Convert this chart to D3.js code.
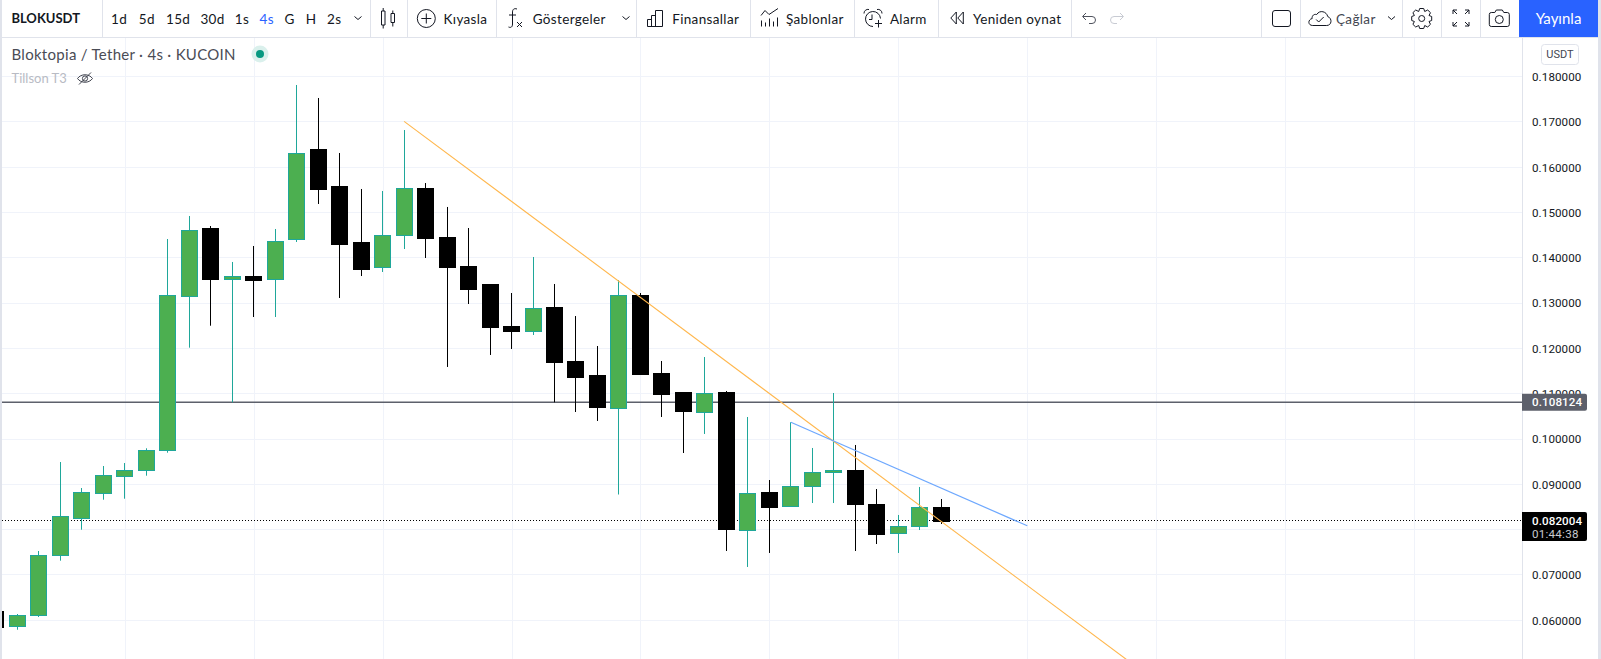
<!DOCTYPE html>
<html><head><meta charset="utf-8">
<script src="https://cdnjs.cloudflare.com/ajax/libs/d3/7.8.5/d3.min.js"></script>
<style>html,body{margin:0;padding:0;background:#fff;overflow:hidden}svg{display:block}text{font-family:Lato,"Open Sans",sans-serif}</style>
</head><body><svg id="c" width="1601" height="659"></svg>
<script>
// Candle data: index -1 .. 43 (4h candles)
const candleIndex = d3.range(-1, 44);
const opens  = [.06205,.05859,.06102,.07426,.08252,.08804,.09170,.09302,.09744,.13144,.14638,.13519,.13600,.13519,.14402,.16382,.15587,.14329,.13784,.14490,.15521,.14461,.13821,.13402,.12475,.12371,.12916,.11724,.11393,.10686,.13181,.11459,.11018,.10583,.11018,.07993,.08832,.08508,.08949,.09252,.09296,.08567,.07912,.08066,.08501];
const closes = [.05859,.06110,.07435,.08296,.08826,.09201,.09311,.09753,.13174,.14609,.13512,.13594,.13512,.14367,.16309,.15499,.14307,.13733,.14499,.15536,.14417,.13799,.13313,.12453,.12364,.12887,.11702,.11371,.10686,.13174,.11437,.10996,.10598,.11011,.07993,.08804,.08501,.08958,.09267,.09296,.08545,.07905,.08075,.08494,.08199];
const highs  = [.06205,.06139,.07530,.09494,.08920,.09406,.09472,.09797,.14417,.14925,.14704,.13910,.14263,.14638,.17817,.17530,.16316,.15521,.15477,.16823,.15653,.15124,.14660,.13402,.13225,.14020,.13424,.12717,.12055,.13512,.13225,.11724,.11018,.11812,.11062,.10488,.09097,.10371,.09804,.11018,.09870,.08898,.08325,.08943,.08678];
const lows   = [.05859,.05792,.06073,.07316,.08000,.08662,.08684,.09192,.09700,.12018,.12503,.10812,.12695,.12695,.14351,.15190,.13115,.13600,.13689,.14196,.13998,.11592,.12982,.11857,.11989,.12298,.10812,.10598,.10400,.08777,.11437,.10488,.09693,.10113,.07530,.07177,.07486,.08508,.08589,.08589,.07530,.07684,.07486,.07993,.08126];
const priceTicks = [.06,.07,.08,.09,.10,.11,.12,.13,.14,.15,.16,.17,.18];
const hiddenTick = .08; // covered by the last-price tag in the reference
const gridIndex = d3.range(5, 66, 6);
const supportPrice = 0.108124, lastPrice = 0.082004, countdown = "01:44:38";
const orangeLine = [[18, .17015],[52, .05]];
const blueLine = [[36, .10371],[47, .08086]];
const toolbarLabels = [["1d",111],["5d",138.8],["15d",166],["30d",200.4],["1s",234.8],["4s",259.6],["G",284.4],["H",305.8],["2s",327],["Kıyasla",443.5],["Göstergeler",532.7],["Finansallar",672.2],["Şablonlar",785.9],["Alarm",889.9],["Yeniden oynat",972.9],["Çağlar",1336]];
const separators = [102,370,407,496,636,750,854,938,1071,1261,1300,1402,1441,1480];
const titleText = "Bloktopia / Tether · 4s · KUCOIN", indicatorText = "Tillson T3", symbolText = "BLOKUSDT", unitText = "USDT", publishText = "Yayınla";

const W = 1601, H = 659, axisX = 1522, paneTop = 38;
const x = d3.scaleLinear().domain([0, 43]).range([17.3, 941.3]);
const y = d3.scaleLinear().domain([.06, .18]).range([620.3, 76.7]);
const crisp = v => Math.round(v - .5) + .5;
const svg = d3.select("#c");
const ink = "#131722", border = "#e0e3eb", grid = "#f0f3fa", up = "#4caf50", upEdge = "#1fa79a";

svg.append("rect").attr("width", W).attr("height", H).attr("fill", "#fff");
svg.append("defs").append("clipPath").attr("id", "pane").append("rect").attr("x", 2).attr("y", paneTop).attr("width", axisX - 2).attr("height", H - paneTop);
const pane = svg.append("g").attr("clip-path", "url(#pane)");

// grid
pane.selectAll(".gy").data(priceTicks).join("line").attr("x1", 2).attr("x2", axisX).attr("y1", d => crisp(y(d))).attr("y2", d => crisp(y(d))).attr("stroke", grid);
pane.selectAll(".gx").data(gridIndex).join("line").attr("x1", d => crisp(x(d) + .5)).attr("x2", d => crisp(x(d) + .5)).attr("y1", paneTop).attr("y2", H).attr("stroke", grid);

// reference lines
pane.append("line").attr("x1", 2).attr("x2", axisX).attr("y1", y(supportPrice)).attr("y2", y(supportPrice)).attr("stroke", "#5d606b").attr("stroke-width", 1.4);
pane.append("line").attr("x1", 2).attr("x2", axisX).attr("y1", crisp(y(lastPrice))).attr("y2", crisp(y(lastPrice))).attr("stroke", "#000").attr("stroke-dasharray", "1 2");

// candles
const candles = candleIndex.map((i, k) => ({i, o: opens[k], c: closes[k], h: highs[k], l: lows[k]}));
const cg = pane.selectAll(".candle").data(candles).join("g");
cg.append("line").attr("x1", d => crisp(x(d.i))).attr("x2", d => crisp(x(d.i)))
  .attr("y1", d => y(d.h)).attr("y2", d => y(d.l))
  .attr("stroke", d => d.c >= d.o ? upEdge : "#000");
cg.append("rect").attr("x", d => crisp(x(d.i)) - 8).attr("width", 16)
  .attr("y", d => crisp(y(Math.max(d.o, d.c))))
  .attr("height", d => Math.max(1, Math.round(y(Math.min(d.o, d.c)) - y(Math.max(d.o, d.c)))))
  .attr("fill", d => d.c >= d.o ? up : "#000")
  .attr("stroke", d => d.c >= d.o ? upEdge : "#000");

// trend lines
const tl = d3.line().x(d => x(d[0])).y(d => y(d[1]));
pane.append("path").attr("d", tl(orangeLine)).attr("fill", "none").attr("stroke", "#ffb74d").attr("stroke-width", 1.1);
pane.append("path").attr("d", tl(blueLine)).attr("fill", "none").attr("stroke", "#6ea8fe").attr("stroke-width", 1.2);

// price axis
const axis = d3.axisRight(y).tickValues(priceTicks.filter(d => d !== hiddenTick)).tickFormat(d3.format(".6f")).tickSize(0).tickPadding(10);
const ag = svg.append("g").attr("transform", `translate(${axisX},0)`).call(axis);
ag.select(".domain").remove();
ag.selectAll("text").attr("fill", ink).style("font-family", "Roboto").style("font-size", "11.6px").style("letter-spacing", "0.1px");
svg.append("line").attr("x1", axisX + .5).attr("x2", axisX + .5).attr("y1", paneTop).attr("y2", H).attr("stroke", border);

// price tags
const tag = (py, h, fill) => svg.append("path").attr("d", `M${axisX} ${py}h63a2 2 0 0 1 2 2v${h - 4}a2 2 0 0 1 -2 2h-63z`).attr("fill", fill);
tag(y(supportPrice) - 8.5, 17, "#5d606b");
svg.append("text").attr("x", 1532).attr("y", y(supportPrice) + 4).text(d3.format(".6f")(supportPrice)).attr("fill", "#fff").style("font-family", "Roboto").style("font-size", "11.6px").style("font-weight", 500).style("letter-spacing", "0.1px");
tag(y(lastPrice) - 8.5, 29, "#000");
svg.append("text").attr("x", 1532).attr("y", y(lastPrice) + 4).text(d3.format(".6f")(lastPrice)).attr("fill", "#fff").style("font-family", "Roboto").style("font-size", "11.6px").style("font-weight", 500).style("letter-spacing", "0.1px");
svg.append("text").attr("x", 1532).attr("y", y(lastPrice) + 17.5).text(countdown).attr("fill", "#c8cad0").style("font-family", "Roboto").style("font-size", "11.6px").style("letter-spacing", "0.25px");

// USDT box
svg.append("rect").attr("x", 1541.5).attr("y", 44.5).attr("width", 37).attr("height", 20).attr("rx", 3).attr("fill", "#fff").attr("stroke", border);
svg.append("text").attr("x", 1560).attr("y", 58).attr("text-anchor", "middle").text(unitText).attr("fill", "#434651").style("font-family", "Roboto").style("font-size", "11px");

// legend
svg.append("text").attr("x", 11.5).attr("y", 59.5).text(titleText).attr("fill", "#4a4c55").style("font-size", "15px").style("letter-spacing", "0.29px");
svg.append("circle").attr("cx", 260).attr("cy", 54).attr("r", 8.5).attr("fill", "#daf0ec");
svg.append("circle").attr("cx", 260).attr("cy", 54).attr("r", 4).attr("fill", "#089981");
svg.append("text").attr("x", 11.5).attr("y", 83).text(indicatorText).attr("fill", "#b8bbc4").style("font-size", "13px");
const eye = svg.append("g").attr("transform", "translate(85,78.5)").attr("fill", "none").attr("stroke", "#434651").attr("stroke-width", 1);
eye.append("path").attr("d", "M-7.5 0C-4 -5 4 -5 7.5 0C4 5 -4 5 -7.5 0Z");
eye.append("circle").attr("r", 2.6);
eye.append("path").attr("d", "M-6 6L6 -6");

// toolbar
svg.append("rect").attr("x", 1519).attr("width", 79.5).attr("height", 37).attr("fill", "#2962ff");
svg.append("text").attr("x", 1558.5).attr("y", 24).attr("text-anchor", "middle").text(publishText).attr("fill", "#fff").style("font-size", "15px");
svg.selectAll(".sep").data(separators).join("line").attr("x1", d => d + .5).attr("x2", d => d + .5).attr("y1", 0).attr("y2", 37).attr("stroke", border);
svg.append("line").attr("x1", 0).attr("x2", W).attr("y1", 37.5).attr("y2", 37.5).attr("stroke", border);
svg.append("rect").attr("width", 2).attr("height", H).attr("fill", border);
svg.append("rect").attr("x", 1598).attr("width", 3).attr("height", H).attr("fill", border);

svg.append("text").attr("x", 11.4).attr("y", 23).text(symbolText).attr("fill", ink).style("font-size", "13px").style("font-weight", 700);
svg.selectAll(".tb").data(toolbarLabels).join("text").attr("x", d => d[1]).attr("y", 23.5).text(d => d[0])
  .attr("fill", d => d[0] === "4s" ? "#2962ff" : d[0] === "Çağlar" ? "#434651" : ink).style("font-size", "13.5px").style("letter-spacing", "0.35px");

const icon = (tx, ty, paths, color) => {
  const g = svg.append("g").attr("transform", `translate(${tx},${ty})`).attr("fill", "none").attr("stroke", color || ink).attr("stroke-width", 1);
  paths.forEach(p => g.append("path").attr("d", p));
  return g;
};
const chev = "M-3.5 -1.5L0 1.5L3.5 -1.5";
icon(358, 18, [chev]); icon(626, 18, [chev]); icon(1391.5, 18, [chev]);
// candle type
icon(388, 18.5, ["M-6.5 -7.5h3.5v14h-3.5zM-4.8 -10.5v3M-4.8 6.5v3.5", "M3 -5h3.5v9h-3.5zM4.8 -8v3M4.8 4v4"]);
// compare
const cmp = icon(426.3, 18.5, ["M0 -5V5M-5 0H5"]); cmp.append("circle").attr("r", 9);
// fx
icon(515, 18, ["M2 -9C-1 -10 -2.5 -8.5 -2.5 -6V6C-2.5 9 -4 10 -6.5 9", "M-6 -3H1", "M2 4L7 9M7 4L2 9"]);
// financials
icon(655, 18.5, ["M-7.5 8V1h4v7M-3.5 8V-3h4v11M0.5 8V-8h7v16H-7.5"]);
// templates
icon(770, 18.5, ["M-9 -3L-5 -8L-1 -4L2 -6L8 -10", "M-8.5 2V8M-4.5 4V8M-0.5 0V8M3.5 3V8M7.5 -1V8"]);
// alarm
icon(873, 18.5, ["M-9 -5A4 4 0 0 1 -4 -9M9 -5A4 4 0 0 0 4 -9", "M-1 -4V1H-4", "M2 5H9M5.5 1.5V9", "M0 8A7.5 7.5 0 1 1 7.5 0"]);
// replay
icon(957.3, 18, ["M-1 -6L-6.5 0L-1 6Z", "M6 -6L0.5 0L6 6Z"]);
// undo redo
icon(1089, 18.5, ["M-6 -2H3A3.5 3.5 0 0 1 3 5H0M-3 -5.5L-6.5 -2L-3 1.5"], "#50535e");
icon(1117, 18.5, ["M6 -2H-3A3.5 3.5 0 0 0 -3 5H0M3 -5.5L6.5 -2L3 1.5"], "#c8cbd3");
// layout
svg.append("rect").attr("x", 1272.5).attr("y", 10.5).attr("width", 18).attr("height", 16).attr("rx", 2.5).attr("fill", "none").attr("stroke", ink);
// cloud
icon(1319.7, 18.5, ["M-7 7H7C12 7 13 0 8 -2C7 -7 0 -9 -3 -4C-7 -5 -8 -1 -7.5 0C-12 1 -12 7 -7 7Z", "M-3.5 1L-1 3.5L4 -1.5"], ink);
// gear
const gr = icon(1421.7, 18.5, ["M-2 -10H2L3 -7L6 -8.5L8.8 -5.8L7.3 -3L10 -2V2L7.3 3L8.8 5.8L6 8.5L3 7L2 10H-2L-3 7L-6 8.5L-8.8 5.8L-7.3 3L-10 2V-2L-7.3 -3L-8.8 -5.8L-6 -8.5L-3 -7Z"]);
gr.append("circle").attr("r", 3);
// fullscreen
icon(1461, 18, ["M-8 -4V-8H-4M-8 -8L-4 -4M8 -4V-8H4M8 -8L4 -4M-8 4V8H-4M-8 8L-4 4M8 4V8H4M8 8L4 4"]);
// camera
const cam = icon(1499.3, 18.5, ["M-8 -6H-4.5L-3 -8.5H3L4.5 -6H8A2 2 0 0 1 10 -4V6A2 2 0 0 1 8 8H-8A2 2 0 0 1 -10 6V-4A2 2 0 0 1 -8 -6Z"]);
cam.append("circle").attr("cy", 1).attr("r", 4);
</script></body></html>
